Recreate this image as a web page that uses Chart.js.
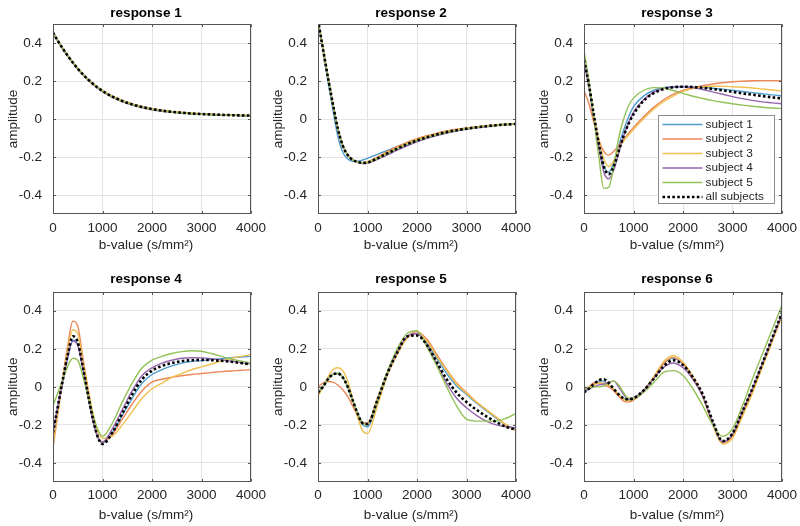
<!DOCTYPE html>
<html>
<head>
<meta charset="utf-8">
<script src="https://cdn.jsdelivr.net/npm/chart.js@4.4.1/dist/chart.umd.min.js"></script>
<style>
  body { margin: 0; background: #fff; }
  #wrap { position: relative; width: 800px; height: 526px; }
  #wrap canvas { position: absolute; }
</style>
</head>
<body>
<div id="wrap">
  <canvas id="c1" width="266" height="260" style="left:0px;top:0px"></canvas>
  <canvas id="c2" width="266" height="260" style="left:265px;top:0px"></canvas>
  <canvas id="c3" width="266" height="260" style="left:531px;top:0px"></canvas>
  <canvas id="c4" width="266" height="266" style="left:0px;top:260px"></canvas>
  <canvas id="c5" width="266" height="266" style="left:265px;top:260px"></canvas>
  <canvas id="c6" width="266" height="266" style="left:531px;top:260px"></canvas>
</div>
<script>
// b-values shared by every curve
const bValues = [0, 100, 200, 300, 400, 500, 600, 700, 800, 900, 1000, 1200, 1400, 1600, 1800, 2000, 2200, 2400, 2600, 2800, 3000, 3200, 3400, 3600, 3800, 4000];
const xTicks = [0, 1000, 2000, 3000, 4000];
const yTicks = [-0.4, -0.2, 0, 0.2, 0.4];
const seriesLabels = ["subject 1", "subject 2", "subject 3", "subject 4", "subject 5", "all subjects"];
const seriesColors = ["#4f9ccc", "#ec8758", "#f0c150", "#9565ad", "#93c158", "#000000"];
const titles = ["response 1", "response 2", "response 3", "response 4", "response 5", "response 6"];
const xLabel = "b-value (s/mm²)";
const yLabel = "amplitude";

// each response: subject 1..5, then all subjects
const response1 = [
  [0.452, 0.408, 0.368, 0.331, 0.296, 0.264, 0.236, 0.21, 0.187, 0.166, 0.148, 0.119, 0.096, 0.078, 0.064, 0.053, 0.045, 0.038, 0.033, 0.029, 0.026, 0.023, 0.021, 0.02, 0.018, 0.017],
  [0.458, 0.413, 0.372, 0.334, 0.299, 0.267, 0.238, 0.212, 0.189, 0.168, 0.15, 0.12, 0.097, 0.079, 0.065, 0.054, 0.046, 0.039, 0.034, 0.03, 0.027, 0.025, 0.023, 0.021, 0.02, 0.019],
  [0.455, 0.41, 0.37, 0.333, 0.298, 0.266, 0.237, 0.211, 0.188, 0.167, 0.149, 0.119, 0.096, 0.078, 0.064, 0.053, 0.045, 0.039, 0.034, 0.03, 0.027, 0.024, 0.022, 0.021, 0.019, 0.018],
  [0.454, 0.409, 0.368, 0.33, 0.294, 0.262, 0.233, 0.207, 0.183, 0.162, 0.144, 0.114, 0.091, 0.073, 0.059, 0.049, 0.041, 0.035, 0.031, 0.028, 0.025, 0.023, 0.021, 0.019, 0.018, 0.017],
  [0.456, 0.411, 0.37, 0.332, 0.297, 0.265, 0.236, 0.21, 0.186, 0.165, 0.147, 0.117, 0.094, 0.076, 0.062, 0.051, 0.043, 0.037, 0.032, 0.028, 0.025, 0.023, 0.021, 0.02, 0.018, 0.017],
  [0.455, 0.41, 0.37, 0.332, 0.297, 0.265, 0.236, 0.21, 0.187, 0.166, 0.148, 0.118, 0.095, 0.077, 0.063, 0.052, 0.044, 0.038, 0.033, 0.029, 0.026, 0.024, 0.022, 0.02, 0.019, 0.018]
];
const response2 = [
  [0.52, 0.36, 0.2, 0.05, -0.09, -0.175, -0.21, -0.222, -0.222, -0.216, -0.207, -0.186, -0.165, -0.145, -0.125, -0.107, -0.091, -0.077, -0.066, -0.057, -0.049, -0.043, -0.037, -0.032, -0.028, -0.025],
  [0.52, 0.37, 0.22, 0.08, -0.05, -0.14, -0.19, -0.215, -0.226, -0.23, -0.226, -0.2, -0.172, -0.146, -0.123, -0.104, -0.088, -0.074, -0.063, -0.054, -0.047, -0.041, -0.035, -0.031, -0.027, -0.024],
  [0.52, 0.37, 0.22, 0.08, -0.05, -0.14, -0.19, -0.214, -0.225, -0.23, -0.227, -0.204, -0.177, -0.151, -0.128, -0.108, -0.092, -0.078, -0.066, -0.057, -0.049, -0.043, -0.037, -0.032, -0.028, -0.025],
  [0.52, 0.37, 0.22, 0.08, -0.05, -0.14, -0.19, -0.216, -0.228, -0.234, -0.233, -0.213, -0.189, -0.164, -0.141, -0.12, -0.102, -0.087, -0.074, -0.063, -0.054, -0.047, -0.041, -0.035, -0.031, -0.027],
  [0.52, 0.37, 0.22, 0.08, -0.05, -0.14, -0.19, -0.215, -0.227, -0.232, -0.23, -0.208, -0.182, -0.157, -0.134, -0.114, -0.097, -0.082, -0.07, -0.06, -0.052, -0.045, -0.039, -0.034, -0.03, -0.026],
  [0.52, 0.37, 0.22, 0.08, -0.05, -0.14, -0.19, -0.215, -0.226, -0.231, -0.229, -0.207, -0.181, -0.156, -0.133, -0.113, -0.096, -0.081, -0.069, -0.059, -0.051, -0.044, -0.038, -0.033, -0.029, -0.026]
];
const response3 = [
  [0.3, 0.17, 0.01, -0.14, -0.25, -0.28, -0.23, -0.14, -0.06, 0.01, 0.065, 0.12, 0.15, 0.165, 0.17, 0.171, 0.169, 0.166, 0.162, 0.157, 0.151, 0.145, 0.139, 0.133, 0.127, 0.122],
  [0.15, 0.08, -0.02, -0.11, -0.17, -0.19, -0.17, -0.14, -0.11, -0.075, -0.045, 0.01, 0.06, 0.1, 0.13, 0.15, 0.165, 0.175, 0.184, 0.191, 0.196, 0.199, 0.201, 0.202, 0.202, 0.202],
  [0.3, 0.17, 0.02, -0.11, -0.21, -0.25, -0.22, -0.16, -0.115, -0.085, -0.055, 0.0, 0.05, 0.09, 0.12, 0.145, 0.16, 0.168, 0.172, 0.172, 0.17, 0.167, 0.163, 0.158, 0.153, 0.148],
  [0.31, 0.17, 0.0, -0.15, -0.28, -0.315, -0.27, -0.18, -0.09, -0.02, 0.035, 0.1, 0.14, 0.16, 0.168, 0.17, 0.165, 0.155, 0.143, 0.13, 0.118, 0.107, 0.098, 0.09, 0.085, 0.08],
  [0.36, 0.2, 0.0, -0.2, -0.365, -0.36, -0.25, -0.1, 0.0, 0.07, 0.11, 0.15, 0.165, 0.163, 0.15, 0.135, 0.12, 0.108, 0.097, 0.088, 0.08, 0.073, 0.067, 0.062, 0.058, 0.055],
  [0.31, 0.18, 0.02, -0.13, -0.25, -0.29, -0.25, -0.17, -0.09, -0.025, 0.025, 0.095, 0.135, 0.157, 0.167, 0.17, 0.168, 0.164, 0.158, 0.151, 0.143, 0.135, 0.128, 0.121, 0.114, 0.108]
];
const response4 = [
  [-0.24, -0.1, 0.03, 0.16, 0.245, 0.22, 0.1, -0.04, -0.17, -0.265, -0.295, -0.24, -0.15, -0.06, 0.02, 0.065, 0.09, 0.11, 0.125, 0.133, 0.138, 0.143, 0.148, 0.153, 0.157, 0.16],
  [-0.32, -0.14, 0.05, 0.22, 0.345, 0.32, 0.16, 0.0, -0.15, -0.26, -0.29, -0.25, -0.17, -0.09, -0.02, 0.025, 0.04, 0.05, 0.058, 0.065, 0.07, 0.075, 0.08, 0.083, 0.087, 0.09],
  [-0.3, -0.13, 0.05, 0.2, 0.3, 0.28, 0.14, 0.0, -0.13, -0.23, -0.27, -0.26, -0.2, -0.13, -0.06, -0.01, 0.02, 0.05, 0.07, 0.09, 0.105, 0.12, 0.135, 0.15, 0.16, 0.17],
  [-0.24, -0.1, 0.03, 0.16, 0.24, 0.22, 0.1, -0.04, -0.17, -0.26, -0.29, -0.22, -0.12, -0.02, 0.06, 0.1, 0.125, 0.14, 0.15, 0.153, 0.152, 0.148, 0.142, 0.135, 0.127, 0.12],
  [-0.1, -0.03, 0.04, 0.11, 0.15, 0.14, 0.06, -0.04, -0.14, -0.22, -0.26, -0.19, -0.08, 0.02, 0.1, 0.14, 0.16, 0.175, 0.185, 0.19, 0.187, 0.175, 0.16, 0.145, 0.135, 0.125],
  [-0.24, -0.1, 0.04, 0.17, 0.265, 0.235, 0.11, -0.03, -0.16, -0.26, -0.3, -0.24, -0.14, -0.04, 0.04, 0.085, 0.11, 0.125, 0.135, 0.14, 0.142, 0.14, 0.137, 0.132, 0.125, 0.118]
];
const response5 = [
  [-0.03, 0.0, 0.04, 0.065, 0.07, 0.05, 0.0, -0.07, -0.145, -0.2, -0.21, -0.08, 0.065, 0.18, 0.26, 0.28, 0.23, 0.15, 0.07, 0.005, -0.04, -0.085, -0.125, -0.165, -0.2, -0.225],
  [0.0, 0.02, 0.028, 0.025, 0.01, -0.015, -0.05, -0.1, -0.15, -0.19, -0.19, -0.06, 0.07, 0.18, 0.26, 0.29, 0.25, 0.17, 0.09, 0.02, -0.03, -0.08, -0.12, -0.16, -0.2, -0.23],
  [-0.05, 0.0, 0.05, 0.09, 0.1, 0.085, 0.03, -0.06, -0.16, -0.23, -0.245, -0.1, 0.06, 0.17, 0.255, 0.28, 0.24, 0.16, 0.085, 0.015, -0.035, -0.08, -0.12, -0.16, -0.2, -0.23],
  [-0.03, 0.0, 0.04, 0.065, 0.07, 0.05, 0.0, -0.07, -0.14, -0.19, -0.2, -0.07, 0.07, 0.185, 0.265, 0.28, 0.22, 0.12, 0.02, -0.06, -0.11, -0.15, -0.18, -0.2, -0.21, -0.215],
  [-0.03, 0.0, 0.04, 0.065, 0.07, 0.05, 0.0, -0.07, -0.14, -0.19, -0.2, -0.07, 0.08, 0.2, 0.28, 0.295, 0.21, 0.11, 0.0, -0.1, -0.17, -0.18, -0.18, -0.18, -0.165, -0.14],
  [-0.03, 0.0, 0.04, 0.065, 0.07, 0.05, 0.0, -0.07, -0.14, -0.19, -0.195, -0.07, 0.07, 0.18, 0.265, 0.27, 0.22, 0.13, 0.04, -0.03, -0.08, -0.12, -0.155, -0.185, -0.21, -0.225]
];
const response6 = [
  [-0.03, -0.01, 0.015, 0.03, 0.03, 0.01, -0.015, -0.04, -0.06, -0.07, -0.06, -0.02, 0.045, 0.12, 0.15, 0.12, 0.05, -0.05, -0.19, -0.29, -0.255, -0.14, -0.02, 0.12, 0.25, 0.385],
  [-0.02, 0.0, 0.02, 0.02, 0.01, 0.0, -0.02, -0.05, -0.075, -0.08, -0.07, -0.025, 0.045, 0.12, 0.155, 0.12, 0.05, -0.05, -0.19, -0.29, -0.26, -0.145, -0.025, 0.11, 0.245, 0.38],
  [-0.02, -0.005, 0.01, 0.02, 0.02, 0.01, -0.01, -0.04, -0.065, -0.075, -0.065, -0.02, 0.05, 0.13, 0.165, 0.13, 0.055, -0.05, -0.2, -0.3, -0.27, -0.155, -0.035, 0.1, 0.235, 0.37],
  [-0.02, -0.01, 0.0, 0.01, 0.015, 0.025, 0.03, 0.0, -0.04, -0.065, -0.06, -0.02, 0.04, 0.1, 0.125, 0.1, 0.04, -0.05, -0.19, -0.29, -0.25, -0.13, -0.01, 0.12, 0.25, 0.38],
  [-0.01, -0.005, 0.0, 0.0, 0.005, 0.02, 0.03, 0.01, -0.03, -0.06, -0.06, -0.03, 0.02, 0.075, 0.085, 0.06, -0.01, -0.1, -0.2, -0.26, -0.22, -0.1, 0.04, 0.17, 0.3, 0.43],
  [-0.03, -0.01, 0.015, 0.035, 0.04, 0.02, -0.01, -0.04, -0.06, -0.065, -0.06, -0.02, 0.04, 0.105, 0.14, 0.115, 0.05, -0.04, -0.18, -0.285, -0.245, -0.13, -0.01, 0.12, 0.255, 0.39]
];

const FONT = "'Liberation Sans', Arial, Helvetica, sans-serif";
const TEXT = "#262626";

// axes box, inward tick marks, title, x label and (optional) legend
const framePlugin = {
  id: "frame",
  afterDraw(chart, args, opts) {
    const ctx = chart.ctx;
    const a = chart.chartArea;
    const sx = chart.scales.x, sy = chart.scales.y;
    const L = Math.round(a.left) + 0.5, R = Math.round(a.right) - 0.5;
    const T = Math.round(a.top) + 0.5, B = Math.round(a.bottom) - 0.5;
    const cx = (a.left + a.right) / 2 - 6;
    ctx.save();
    ctx.strokeStyle = "#555";
    ctx.lineWidth = 1;
    ctx.strokeRect(L, T, R - L, B - T);
    ctx.beginPath();
    xTicks.forEach(v => {
      const px = Math.round(sx.getPixelForValue(v)) + 0.5;
      ctx.moveTo(px, B); ctx.lineTo(px, B - 2.5);
      ctx.moveTo(px, T); ctx.lineTo(px, T + 2.5);
    });
    yTicks.forEach(v => {
      const py = Math.round(sy.getPixelForValue(v)) + 0.5;
      ctx.moveTo(L, py); ctx.lineTo(L + 2.5, py);
      ctx.moveTo(R, py); ctx.lineTo(R - 2.5, py);
    });
    ctx.stroke();

    ctx.textAlign = "center";
    ctx.textBaseline = "middle";
    ctx.fillStyle = "#000";
    ctx.font = "bold 13.5px " + FONT;
    ctx.fillText(opts.title, cx, opts.titleY);
    ctx.fillStyle = TEXT;
    ctx.font = "13.5px " + FONT;
    ctx.fillText(xLabel, cx, a.bottom + opts.xLabelOffset);

    if (opts.legend) {
      const w = 116, h = 88;
      const bx = Math.round(a.right - 8 - w) + 0.5;
      const by = Math.round(a.bottom - 11 - h) + 0.5;
      ctx.fillStyle = "#fff";
      ctx.fillRect(bx, by, w, h);
      ctx.strokeStyle = "#8c8c8c";
      ctx.strokeRect(bx, by, w, h);
      ctx.font = "11.8px " + FONT;
      ctx.textAlign = "left";
      chart.data.datasets.forEach((ds, i) => {
        const yy = by + 9 + i * 14.5;
        ctx.beginPath();
        ctx.strokeStyle = ds.borderColor;
        ctx.lineWidth = ds.borderWidth;
        ctx.setLineDash(ds.borderDash || []);
        ctx.moveTo(bx + 4, yy);
        ctx.lineTo(bx + 44, yy);
        ctx.stroke();
        ctx.setLineDash([]);
        ctx.fillStyle = TEXT;
        ctx.fillText(ds.label, bx + 47, yy);
      });
    }
    ctx.restore();
  }
};

function makeChart(id, title, series, row, withLegend) {
  const top = row === 0;
  const datasets = series.map((vals, i) => {
    const isAll = i === series.length - 1;
    return {
      label: seriesLabels[i],
      data: bValues.map((b, k) => ({ x: b, y: vals[k] })),
      borderColor: seriesColors[i],
      borderWidth: isAll ? 2.6 : 1.4,
      borderDash: isAll ? [2.6, 2.3] : [],
      borderCapStyle: "butt",
      pointRadius: 0,
      cubicInterpolationMode: "monotone",
      order: isAll ? 0 : 10 - i
    };
  });

  new Chart(document.getElementById(id), {
    type: "line",
    data: { datasets },
    plugins: [framePlugin],
    options: {
      responsive: false,
      animation: false,
      layout: { padding: { left: 0, right: 15, top: top ? 24 : 31.7, bottom: 0 } },
      plugins: {
        legend: { display: false },
        tooltip: { enabled: false },
        title: { display: false },
        frame: {
          legend: withLegend,
          title: title,
          titleY: top ? 13.3 : 19.5,
          xLabelOffset: top ? 31 : 33
        }
      },
      scales: {
        x: {
          type: "linear",
          min: 0,
          max: 4000,
          afterBuildTicks: s => { s.ticks = xTicks.map(v => ({ value: v })); },
          afterFit: s => {
            s.height = top ? 46 : 44;
            s.paddingLeft = 0;
            s.paddingRight = 0;
          },
          grid: { color: "#e4e4e4", drawTicks: false },
          border: { display: false },
          ticks: {
            padding: top ? 6 : 5,
            maxRotation: 0,
            color: TEXT,
            font: { family: FONT, size: 13.5, lineHeight: 1.2 },
            callback: v => String(v)
          },
          title: { display: false }
        },
        y: {
          min: -0.5,
          max: 0.5,
          afterBuildTicks: s => { s.ticks = yTicks.map(v => ({ value: v })); },
          afterFit: s => { s.width = 53; },
          grid: { color: "#e4e4e4", drawTicks: false },
          border: { display: false },
          ticks: {
            padding: 11,
            color: TEXT,
            font: { family: FONT, size: 13.5, lineHeight: 1.2 },
            callback: v => String(v)
          },
          title: {
            display: true,
            text: yLabel,
            color: TEXT,
            font: { family: FONT, size: 13.5, lineHeight: 1.2 },
            padding: { top: 5.2, bottom: 0 }
          }
        }
      }
    }
  });
}

makeChart("c1", titles[0], response1, 0, false);
makeChart("c2", titles[1], response2, 0, false);
makeChart("c3", titles[2], response3, 0, true);
makeChart("c4", titles[3], response4, 1, false);
makeChart("c5", titles[4], response5, 1, false);
makeChart("c6", titles[5], response6, 1, false);
</script>
</body>
</html>
